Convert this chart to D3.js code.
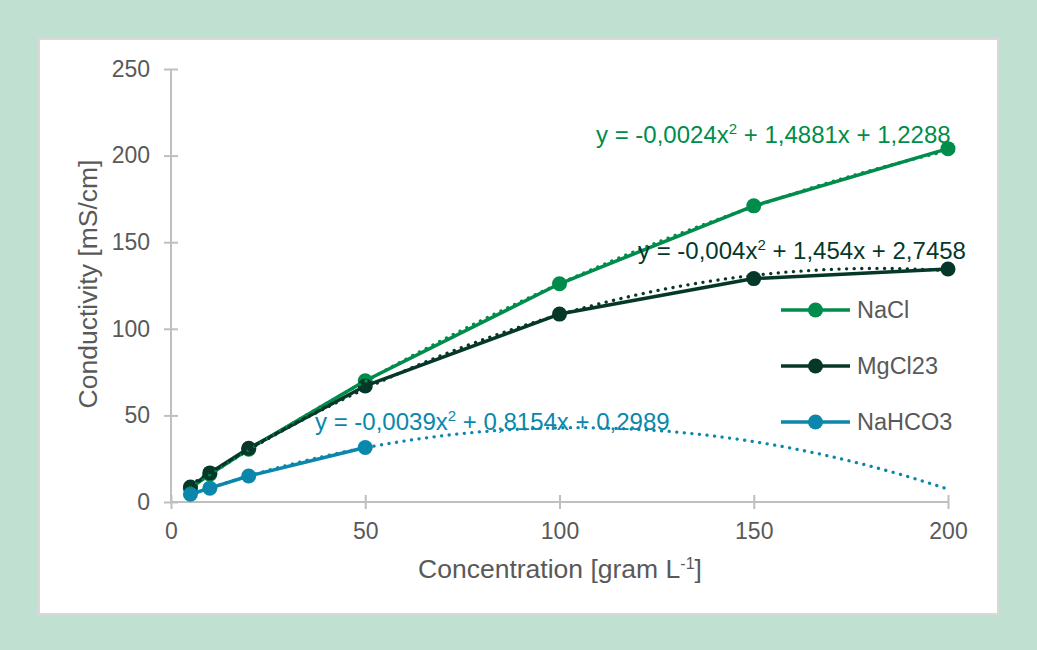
<!DOCTYPE html>
<html><head><meta charset="utf-8">
<script src="https://cdn.jsdelivr.net/npm/d3@7"></script>
<style>
html,body{margin:0;padding:0;background:#c0e1d1;}
svg{display:block;font-family:"Liberation Sans",Arial,sans-serif;}
</style></head>
<body><svg id="c" width="1037" height="650"></svg>
<script>
const concentrations = [5, 10, 20, 50, 100, 150, 200];
const naclValues = [8, 16, 30.5, 70, 126, 171, 204];
const mgclValues = [8.6, 16.8, 31, 67, 108.5, 129, 134.5];
const nahco3Conc = [5, 10, 20, 50];
const nahco3Values = [4.5, 8, 15, 31.5];
const seriesNames = ["NaCl", "MgCl23", "NaHCO3"];
const trendCoefs = [[-0.0024, 1.4881, 1.2288], [-0.004, 1.454, 2.7458], [-0.0039, 0.8154, 0.2989]];
const trendLabels = [["y = -0,0024x", "2", " + 1,4881x + 1,2288"], ["y = -0,004x", "2", " + 1,454x + 2,7458"], ["y = -0,0039x", "2", " + 0,8154x + 0,2989"]];
const xTicks = [0, 50, 100, 150, 200];
const yTicks = [0, 50, 100, 150, 200, 250];
const colors = ["#008c4b", "#06382a", "#0a87ab"];

const svg = d3.select("#c");
svg.append("rect").attr("x", 0).attr("y", 0).attr("width", 1037).attr("height", 650).attr("fill", "#c0e1d1");
svg.append("rect").attr("x", 39).attr("y", 39).attr("width", 959).attr("height", 575).attr("fill", "#fff").attr("stroke", "#d9d9d9").attr("stroke-width", 2);

const x = d3.scaleLinear().domain([0, 200]).range([171, 948]);
const y = d3.scaleLinear().domain([0, 250]).range([502, 69]);
const axisColor = "#bfbfbf", textColor = "#595959";

// axes
const gy = svg.append("g").attr("transform", "translate(171,0)")
  .call(d3.axisLeft(y).tickValues(yTicks).tickSize(14).tickPadding(7).tickFormat(d3.format("d")));
gy.selectAll(".tick line").attr("x1", 7).attr("x2", -7);
const gx = svg.append("g").attr("transform", "translate(0,502)")
  .call(d3.axisBottom(x).tickValues(xTicks).tickSize(14).tickPadding(7).tickFormat(d3.format("d")));
gx.selectAll(".tick line").attr("y1", -7).attr("y2", 7);
[gx, gy].forEach(g => {
  g.select(".domain").attr("stroke", axisColor).attr("stroke-width", 2);
  g.selectAll(".tick line").attr("stroke", axisColor).attr("stroke-width", 2);
  g.selectAll("text").attr("fill", textColor).attr("font-size", 23).attr("font-family", "Liberation Sans, Arial, sans-serif");
});
gy.select(".domain").attr("d", "M0,69V502");
gx.select(".domain").attr("d", "M171,0H948");

// axis titles
svg.append("text").attr("x", 560).attr("y", 578).attr("text-anchor", "middle").attr("fill", textColor).attr("font-size", 26.5)
  .call(t => { t.append("tspan").text("Concentration [gram L"); t.append("tspan").attr("dy", -9).attr("font-size", 16).text("-1"); t.append("tspan").attr("dy", 9).text("]"); });
svg.append("text").attr("transform", "translate(97,284) rotate(-90)").attr("text-anchor", "middle").attr("fill", textColor).attr("font-size", 26.5).text("Conductivity [mS/cm]");

const line = d3.line().x(d => x(d[0])).y(d => y(d[1]));
const seriesData = [
  d3.zip(concentrations, naclValues),
  d3.zip(concentrations, mgclValues),
  d3.zip(nahco3Conc, nahco3Values)
];

// series lines and markers
seriesData.forEach((data, i) => {
  svg.append("path").datum(data).attr("d", line).attr("fill", "none").attr("stroke", colors[i]).attr("stroke-width", 3.5).attr("stroke-linejoin", "round");
  svg.selectAll(null).data(data).enter().append("circle").attr("cx", d => x(d[0])).attr("cy", d => y(d[1])).attr("r", 7.5).attr("fill", colors[i]);
});

// trendlines (polynomial from displayed equations)
trendCoefs.forEach((c, i) => {
  const xs = d3.range(5, 200.01, 1);
  const pts = xs.map(v => [v, c[0] * v * v + c[1] * v + c[2]]);
  svg.append("path").datum(pts).attr("d", line).attr("fill", "none").attr("stroke", colors[i]).attr("stroke-width", 3.3)
    .attr("stroke-dasharray", "0.1 7.5").attr("stroke-linecap", "round");
});

// equation labels
const labelPos = [[596, 143], [638, 259], [315, 430]];
trendLabels.forEach((parts, i) => {
  const t = svg.append("text").attr("x", labelPos[i][0]).attr("y", labelPos[i][1]).attr("fill", colors[i]).attr("font-size", 24);
  t.append("tspan").text(parts[0]);
  t.append("tspan").attr("dy", -9).attr("font-size", 15).text(parts[1]);
  t.append("tspan").attr("dy", 9).text(parts[2]);
});

// legend
const legY = [310, 366, 422];
seriesNames.forEach((n, i) => {
  const g = svg.append("g");
  g.append("line").attr("x1", 781).attr("x2", 850).attr("y1", legY[i]).attr("y2", legY[i]).attr("stroke", colors[i]).attr("stroke-width", 3.5);
  g.append("circle").attr("cx", 815.5).attr("cy", legY[i]).attr("r", 7.5).attr("fill", colors[i]);
  g.append("text").attr("x", 857).attr("y", legY[i] + 8).attr("fill", textColor).attr("font-size", 23.5).text(n);
});
</script></body></html>
